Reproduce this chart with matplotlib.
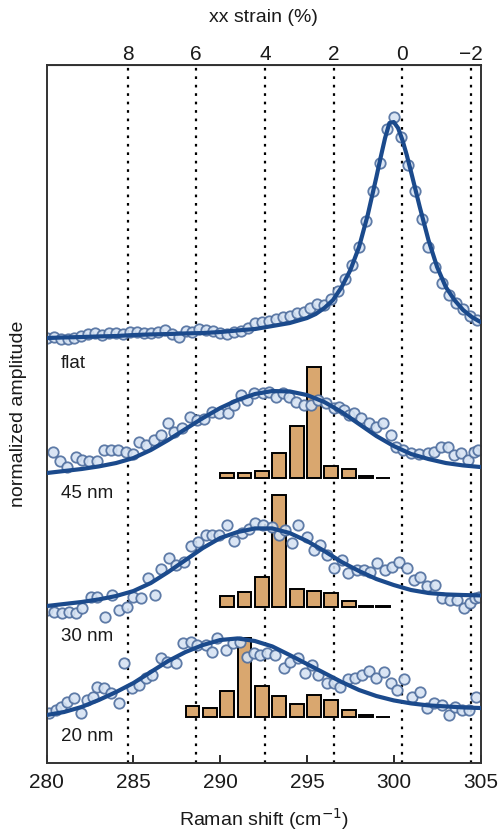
"""
Raman G-peak spectra (flat / 45 / 30 / 20 nm) with strain histograms.
Run: python plot.py
"""

import matplotlib.pyplot as plt

plt.rcParams["font.family"] = ["Liberation Sans", "DejaVu Sans"]

# --------- Data ---------
STRAIN_ZERO = 300.5      # Raman shift at 0 % strain (cm^-1)
SHIFT_PER_STRAIN = 1.98  # cm^-1 per % strain
STRAIN_TICKS = [8, 6, 4, 2, 0, -2]

# flat
flat_x = [280.0, 280.4, 280.8, 281.2, 281.6, 282.0, 282.4, 282.8, 283.2, 283.6,
          284.0, 284.4, 284.8, 285.2, 285.6, 286.0, 286.4, 286.8, 287.2, 287.6,
          288.0, 288.4, 288.8, 289.2, 289.6, 290.0, 290.4, 290.8, 291.2, 291.6,
          292.0, 292.4, 292.8, 293.2, 293.6, 294.0, 294.4, 294.8, 295.2, 295.6,
          296.0, 296.4, 296.8, 297.2, 297.6, 298.0, 298.4, 298.8, 299.2, 299.6,
          300.0, 300.4, 300.8, 301.2, 301.6, 302.0, 302.4, 302.8, 303.2, 303.6,
          304.0, 304.4, 304.8]
flat_y = [2.123, 2.128, 2.118, 2.118, 2.123, 2.135, 2.143, 2.148, 2.140, 2.148,
          2.148, 2.145, 2.157, 2.157, 2.148, 2.152, 2.157, 2.165, 2.143, 2.128,
          2.162, 2.157, 2.168, 2.165, 2.162, 2.148, 2.143, 2.157, 2.162, 2.173,
          2.202, 2.207, 2.212, 2.218, 2.228, 2.235, 2.248, 2.257, 2.273, 2.295,
          2.290, 2.320, 2.360, 2.420, 2.490, 2.580, 2.710, 2.860, 3.000, 3.170,
          3.230, 3.130, 2.990, 2.860, 2.720, 2.580, 2.480, 2.400, 2.340, 2.300,
          2.270, 2.235, 2.215]
flat_fit_x = [280, 281, 282, 283, 284, 285, 286, 287, 288, 289, 290, 291, 292,
              293, 294, 295, 295.5, 296, 296.5, 297, 297.5, 298, 298.5, 299,
              299.25, 299.5, 299.75, 300, 300.25, 300.5, 300.75, 301, 301.5,
              302, 302.5, 303, 303.5, 304, 304.5, 305]
flat_fit_y = [2.125, 2.128, 2.130, 2.133, 2.135, 2.140, 2.143, 2.145, 2.148,
              2.150, 2.155, 2.163, 2.170, 2.185, 2.200, 2.225, 2.245, 2.275,
              2.315, 2.380, 2.465, 2.580, 2.740, 2.930, 3.030, 3.125, 3.200,
              3.205, 3.175, 3.115, 3.040, 2.955, 2.780, 2.615, 2.480, 2.380,
              2.315, 2.265, 2.230, 2.205]

# 45 nm
nm45_x = [280.38, 280.77, 281.19, 281.67, 282.05, 282.44, 282.88, 283.30, 283.69,
          284.11, 284.55, 284.95, 285.32, 285.71, 286.19, 286.61, 287.00, 287.34,
          287.82, 288.26, 288.68, 289.07, 289.55, 289.94, 290.42, 290.80, 291.19,
          291.57, 291.96, 292.44, 292.83, 293.20, 293.59, 293.95, 294.36, 294.84,
          295.22, 295.65, 296.09, 296.57, 296.85, 297.15, 297.45, 297.72, 298.11,
          298.59, 298.98, 299.40, 299.84, 300.13, 300.52, 300.99, 301.47, 301.96,
          302.34, 302.72, 303.11, 303.49, 303.88, 304.26, 304.64, 304.84]
nm45_y = [1.557, 1.510, 1.482, 1.528, 1.515, 1.512, 1.512, 1.565, 1.565,
          1.565, 1.557, 1.545, 1.607, 1.590, 1.615, 1.640, 1.700, 1.657,
          1.673, 1.730, 1.717, 1.720, 1.757, 1.748, 1.748, 1.790, 1.840,
          1.815, 1.848, 1.848, 1.857, 1.832, 1.848, 1.830, 1.807, 1.790,
          1.790, 1.815, 1.798, 1.773, 1.780, 1.765, 1.740, 1.748, 1.723,
          1.698, 1.682, 1.698, 1.640, 1.582, 1.565, 1.548, 1.545, 1.548,
          1.557, 1.582, 1.582, 1.540, 1.548, 1.515, 1.557, 1.565]
fit_x = [280, 281, 282, 283, 284, 285, 286, 287, 288, 289, 290, 291, 292,
         293, 294, 295, 296, 297, 298, 299, 300, 301, 302, 303, 304, 305]
nm45_fit_y = [1.450, 1.460, 1.470, 1.483, 1.500, 1.525, 1.565, 1.615, 1.670,
              1.725, 1.775, 1.815, 1.845, 1.860, 1.858, 1.840, 1.805, 1.755,
              1.695, 1.635, 1.585, 1.545, 1.520, 1.500, 1.488, 1.480]

# 30 nm
nm30_x = [280.04, 280.42, 280.90, 281.29, 281.67, 282.05, 282.54, 282.92, 283.36,
          283.78, 284.17, 284.61, 285.00, 285.42, 285.84, 286.23, 286.61, 287.05,
          287.44, 287.92, 288.30, 288.73, 289.17, 289.55, 289.94, 290.38, 290.80,
          291.28, 291.65, 292.00, 292.49, 292.98, 293.36, 293.74, 294.13, 294.51,
          294.99, 295.38, 295.76, 296.15, 296.53, 297.01, 297.39, 297.88, 298.26,
          298.64, 299.03, 299.51, 299.90, 300.28, 300.76, 301.14, 301.53, 301.91,
          302.39, 302.78, 303.26, 303.64, 304.03, 304.41, 304.70, 304.89]
nm30_y = [0.765, 0.757, 0.748, 0.757, 0.748, 0.773, 0.832, 0.832, 0.732,
          0.840, 0.765, 0.782, 0.832, 0.823, 0.923, 0.840, 0.968, 1.023,
          0.990, 1.007, 1.085, 1.107, 1.140, 1.140, 1.140, 1.190, 1.112,
          1.148, 1.170, 1.202, 1.190, 1.182, 1.140, 1.165, 1.098, 1.190,
          1.132, 1.065, 1.090, 1.040, 0.973, 1.015, 0.948, 0.965, 0.965,
          0.957, 0.998, 0.965, 0.982, 1.007, 0.973, 0.915, 0.928, 0.885,
          0.890, 0.823, 0.815, 0.815, 0.773, 0.798, 0.823, 0.832]
nm30_fit_y = [0.785, 0.795, 0.805, 0.818, 0.835, 0.860, 0.900, 0.955, 1.015,
              1.075, 1.125, 1.155, 1.173, 1.173, 1.150, 1.110, 1.060, 1.005,
              0.960, 0.920, 0.890, 0.865, 0.850, 0.843, 0.840, 0.838]

# 20 nm
nm20_x = [280.13, 280.52, 280.85, 281.19, 281.57, 282.00, 282.34, 282.65, 282.92,
          283.30, 283.69, 284.17, 284.46, 284.94, 285.32, 285.71, 286.09, 286.57,
          286.96, 287.44, 287.88, 288.30, 288.69, 289.17, 289.55, 289.84, 290.32,
          290.71, 291.15, 291.53, 291.92, 292.30, 292.70, 293.17, 293.65, 294.03,
          294.51, 294.90, 295.28, 295.66, 296.15, 296.55, 296.91, 297.39, 297.78,
          298.17, 298.55, 298.99, 299.41, 299.84, 300.18, 300.61, 301.05, 301.49,
          301.91, 302.30, 302.78, 303.16, 303.55, 303.93, 304.31, 304.76]
nm20_y = [0.248, 0.265, 0.280, 0.307, 0.323, 0.248, 0.315, 0.330, 0.382,
          0.373, 0.348, 0.298, 0.498, 0.373, 0.390, 0.423, 0.440, 0.523,
          0.507, 0.498, 0.602, 0.607, 0.590, 0.590, 0.557, 0.623, 0.565,
          0.598, 0.607, 0.532, 0.548, 0.540, 0.548, 0.540, 0.473, 0.507,
          0.523, 0.452, 0.490, 0.440, 0.398, 0.400, 0.382, 0.418, 0.423,
          0.440, 0.462, 0.423, 0.457, 0.398, 0.365, 0.418, 0.332, 0.357,
          0.273, 0.298, 0.290, 0.240, 0.282, 0.265, 0.265, 0.332]
nm20_fit_y = [0.240, 0.255, 0.280, 0.315, 0.355, 0.400, 0.455, 0.510, 0.555,
              0.590, 0.615, 0.623, 0.610, 0.583, 0.540, 0.495, 0.450, 0.405,
              0.365, 0.335, 0.313, 0.298, 0.288, 0.283, 0.278, 0.275]

# strain histograms (bin centres in cm^-1, bar heights, baseline)
hist45_x = [290.4, 291.4, 292.4, 293.4, 294.4, 295.4, 296.4, 297.4, 298.4, 299.4]
hist45_h = [0.028, 0.028, 0.038, 0.125, 0.260, 0.558, 0.062, 0.046, 0.010, 0.002]
hist45_base = 1.424
hist30_x = [290.4, 291.4, 292.4, 293.4, 294.4, 295.4, 296.4, 297.4, 298.4, 299.4]
hist30_h = [0.055, 0.072, 0.150, 0.558, 0.088, 0.080, 0.070, 0.030, 0.003, 0.003]
hist30_base = 0.782
hist20_x = [288.4, 289.4, 290.4, 291.4, 292.4, 293.4, 294.4, 295.4, 296.4, 297.4,
            298.4, 299.4]
hist20_h = [0.054, 0.045, 0.133, 0.398, 0.157, 0.104, 0.068, 0.112, 0.088, 0.037,
            0.010, 0.003]
hist20_base = 0.229

labels = ["flat", "45 nm", "30 nm", "20 nm"]
label_y = [2.0, 1.348, 0.632, 0.132]

LINE_COLOR = "#1b4a8c"
FACE_COLOR = "#d6e3f3"
EDGE_COLOR = "#4f6e9e"
BAR_COLOR = "#d9a76f"
TEXT_COLOR = "#1a1a1a"


def raman_to_strain(w):
    return (STRAIN_ZERO - w) / SHIFT_PER_STRAIN


def strain_to_raman(s):
    return STRAIN_ZERO - SHIFT_PER_STRAIN * s


def main():
    fig = plt.figure(figsize=(5.01, 8.36), dpi=100)
    ax = fig.add_axes([0.0932, 0.0873, 0.8659, 0.8349])

    for s in STRAIN_TICKS:
        ax.axvline(strain_to_raman(s), color="black", lw=1.6,
                   linestyle=(0, (1.2, 2.6)), zorder=0)

    for hx, hh, hb in [(hist45_x, hist45_h, hist45_base),
                       (hist30_x, hist30_h, hist30_base),
                       (hist20_x, hist20_h, hist20_base)]:
        ax.bar(hx, hh, width=0.8, bottom=hb, color=BAR_COLOR,
               edgecolor="black", linewidth=1.4, zorder=1)

    series = [(flat_x, flat_y, flat_fit_x, flat_fit_y),
              (nm45_x, nm45_y, fit_x, nm45_fit_y),
              (nm30_x, nm30_y, fit_x, nm30_fit_y),
              (nm20_x, nm20_y, fit_x, nm20_fit_y)]
    for px, py, fx, fy in series:
        ax.plot(px, py, "o", ms=7.5, mfc=FACE_COLOR, mec=EDGE_COLOR, mew=1.3,
                zorder=2, alpha=0.9)
        ax.plot(fx, fy, color=LINE_COLOR, lw=3.0, zorder=3,
                solid_capstyle="round")

    for name, ty in zip(labels, label_y):
        ax.text(280.8, ty, name, fontsize=13.5, color=TEXT_COLOR,
                ha="left", va="center")

    ax.set_xlim(280, 305)
    ax.set_ylim(0, 3.49)
    ax.set_xticks([280, 285, 290, 295, 300, 305])
    ax.set_yticks([])
    ax.tick_params(axis="x", direction="in", length=6, width=1.3,
                   labelsize=15, pad=7, colors=TEXT_COLOR)
    ax.set_xlabel("Raman shift (cm$^{-1}$)", fontsize=14, color=TEXT_COLOR,
                  labelpad=10)
    ax.set_ylabel("normalized amplitude", fontsize=14, color=TEXT_COLOR,
                  labelpad=14)
    for sp in ax.spines.values():
        sp.set_linewidth(1.4)
        sp.set_color("#333333")

    top = ax.secondary_xaxis("top", functions=(raman_to_strain, strain_to_raman))
    top.set_xticks(STRAIN_TICKS)
    top.tick_params(direction="in", length=0, labelsize=15, pad=1,
                    colors=TEXT_COLOR)
    top.set_xlabel("xx strain (%)", fontsize=14, color=TEXT_COLOR, labelpad=16)

    fig.savefig("out.png", dpi=100)
    plt.close(fig)


if __name__ == "__main__":
    main()
